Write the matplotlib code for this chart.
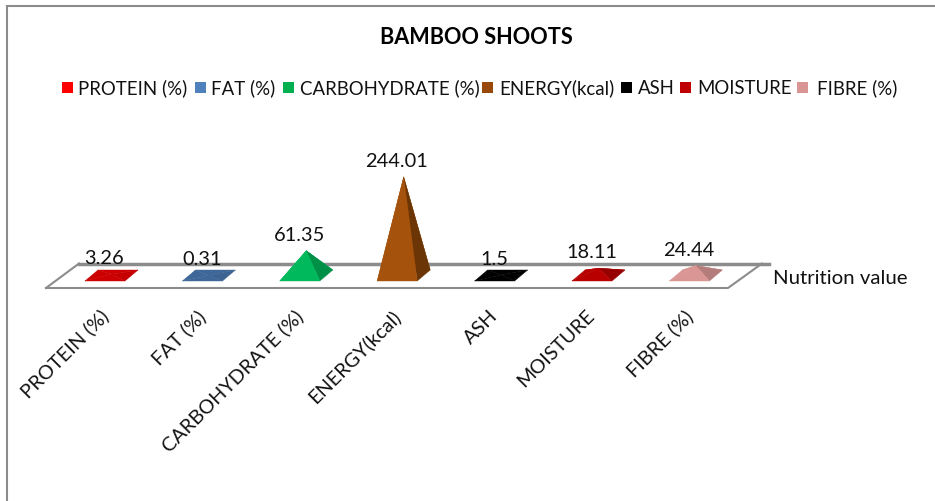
import matplotlib
matplotlib.use('Agg')
from matplotlib import pyplot as plt

plt.rcParams['font.family'] = ['Lato', 'DejaVu Sans']

categories = ['PROTEIN (%)', 'FAT (%)', 'CARBOHYDRATE (%)', 'ENERGY(kcal)', 'ASH', 'MOISTURE', 'FIBRE (%)']
values = [3.26, 0.31, 61.35, 244.01, 1.5, 18.11, 24.44]
value_labels = ['3.26', '0.31', '61.35', '244.01', '1.5', '18.11', '24.44']
colors = ['#cc0000', '#3f6797', '#00b95c', '#a5520c', '#000000', '#b80000', '#da9694']
dark_colors = ['#c60000', '#3c6391', '#008f47', '#6b3505', '#000000', '#960000', '#b47c7a']
legend_colors = ['#ff0000', '#4f81bd', '#00b050', '#984807', '#000000', '#c00000', '#d99694']
legend_swatch_x = [62, 195, 283, 482, 621, 680, 797]
legend_text_x = [78, 211, 300, 499, 638, 697, 817]

grey = '#8c8c8c'
first_x = 85      # front left corner of first base
step = 97.4       # spacing of categories
base_w = 40
depth_x, depth_y = 13, 11
front_y = 281
px_per_unit = 0.404

fig = plt.figure(figsize=(9.35, 5.01), dpi=100)
ax = fig.add_axes([0, 0, 1, 1])
ax.set_xlim(0, 935)
ax.set_ylim(501, 0)
ax.axis('off')

# chart frame
ax.plot([7, 7, 935], [501, 5.5, 5.5], color=grey, lw=1.5, solid_joinstyle='miter')

# floor
ax.plot([46, 79], [288, 263.5], color=grey, lw=1.5)
ax.plot([79, 769], [263.5, 263.5], color=grey, lw=2.5)
ax.plot([46, 728, 762], [288, 288, 263.5], color=grey, lw=1.5)

for i, cat in enumerate(categories):
    x0 = first_x + i * step
    x1 = x0 + base_w
    back_y = front_y - depth_y
    cx = x0 + (base_w + depth_x) / 2
    cy = front_y - depth_y / 2
    apex = (cx, cy - values[i] * px_per_unit)
    fl, fr = (x0, front_y), (x1, front_y)
    bl, br = (x0 + depth_x, back_y), (x1 + depth_x, back_y)

    for face, col in [((bl, br, apex), colors[i]), ((fl, bl, apex), colors[i]),
                      ((fr, br, apex), dark_colors[i]), ((fl, fr, apex), colors[i])]:
        ax.fill(*zip(*face), color=col, lw=0.3, zorder=3)

    ax.text(cx - 7, apex[1] - 10, value_labels[i], ha='center', va='baseline', fontsize=14.4,
            color='#111111', zorder=4)
    ax.text(x0 + 14, 307, cat, rotation=45, rotation_mode='anchor', ha='right', va='top',
            fontsize=14.3, color='#111111')

    # legend entry
    ax.fill([legend_swatch_x[i], legend_swatch_x[i] + 11, legend_swatch_x[i] + 11, legend_swatch_x[i]],
            [82, 82, 93, 93], color=legend_colors[i], lw=0)
    ax.text(legend_text_x[i], 94, cat, ha='left', va='baseline', fontsize=13.4, color='#111111')

ax.text(476, 44, 'BAMBOO SHOOTS', ha='center', va='baseline', fontsize=15.6, fontweight='bold', color='black')
ax.text(773, 284, 'Nutrition value', ha='left', va='baseline', fontsize=14.7, color='#111111')

fig.savefig('out.png', dpi=100)
